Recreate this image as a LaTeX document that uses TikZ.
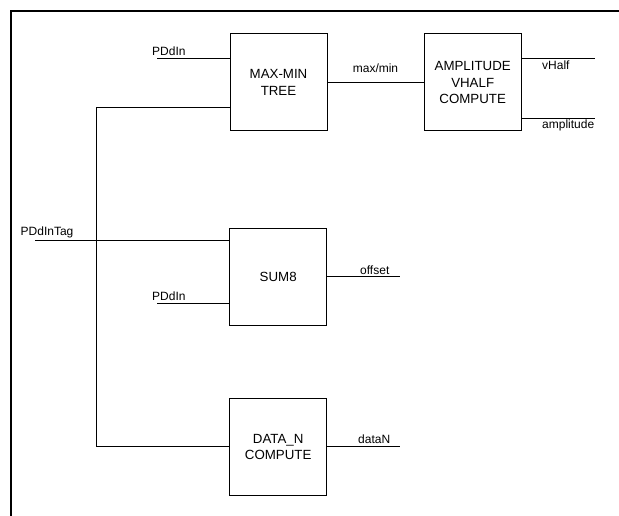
\documentclass[tikz,border=0pt]{standalone}
\usepackage{fontspec}
\setmainfont{Liberation Sans}
\begin{document}
\begin{tikzpicture}[x=1pt,y=-1pt,
  blk/.style={draw,line width=1pt,minimum width=97pt,minimum height=97pt,inner sep=0pt,align=center,
    font=\fontsize{13.3}{16.3}\selectfont},
  lbl/.style={inner sep=0pt,anchor=base west,font=\fontsize{12}{14}\selectfont},
  wire/.style={line width=1pt},
  frame/.style={line width=2pt}]
\useasboundingbox (0,0) rectangle (619,516);
% frame
\coordinate (f0) at (11,11);
\coordinate (f1) at (619,11);
\coordinate (f2) at (11,516);
\draw[frame] (f1) -- (f0) -- (f2);
% blocks
\node[blk] (mm) at (278.5,82.5) {MAX-MIN\\TREE};
\node[blk] (amp) at (472.7,82.5) {AMPLITUDE\\VHALF\\COMPUTE};
\node[blk] (sum) at (278.2,276.8) {SUM8};
\node[blk] (dn) at (278.2,446.8) {DATA\_N\\COMPUTE};
% free ends
\coordinate (pd1) at (157,58.3);
\coordinate (pd2) at (157,303.7);
\coordinate (tag) at (35,240.7);
\coordinate (bt) at (96.3,107.3);
\coordinate (bb) at (96.3,446);
\coordinate (vh) at (595,58.3);
\coordinate (am) at (595,119);
\coordinate (off) at (400,276.7);
\coordinate (dno) at (400,446);
% wires
\draw[wire] (pd1) -- (pd1 -| mm.west);
\draw[wire] (mm.west |- bt) -- (bt) -- (bb) -- (bb -| dn.west);
\draw[wire] (mm.east) -- (amp.west);
\draw[wire] (vh -| amp.east) -- (vh);
\draw[wire] (am -| amp.east) -- (am);
\draw[wire] (tag) -- (tag -| sum.west);
\draw[wire] (pd2) -- (pd2 -| sum.west);
\draw[wire] (off -| sum.east) -- (off);
\draw[wire] (dno -| dn.east) -- (dno);
% labels
\node[lbl] (lpd1) at (152,55.3) {PDdIn};
\node[lbl,anchor=base] (lmm) at (375.5,72.5) {max/min};
\node[lbl] (lvh) at (542,70) {vHalf};
\node[lbl] (lam) at (542,128.5) {amplitude};
\node[lbl] (ltag) at (20.5,235.8) {PDdInTag};
\node[lbl] (lpd2) at (152,300.5) {PDdIn};
\node[lbl] (loff) at (360,274.5) {offset};
\node[lbl] (ldn) at (358,443) {dataN};
\end{tikzpicture}
\end{document}
